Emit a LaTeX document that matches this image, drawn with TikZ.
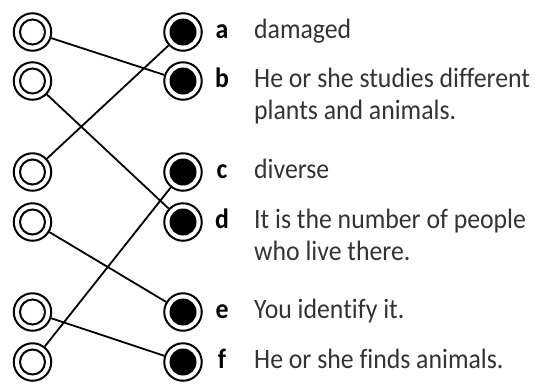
\documentclass[tikz,border=0pt]{standalone}
\usepackage{fontspec}
\setmainfont{Carlito}[FakeStretch=0.92,Ligatures=NoCommon]
\definecolor{txt}{HTML}{333333}
\begin{document}
\begin{tikzpicture}[x=1bp,y=-1bp,
  lring/.style={circle, draw, line width=2bp, minimum size=37.5bp, inner sep=0pt,
    path picture={\draw[line width=2bp] (path picture bounding box.center) circle[radius=12.5bp];}},
  rring/.style={circle, draw, line width=2bp, minimum size=37.5bp, inner sep=0pt,
    path picture={\fill (path picture bounding box.center) circle[radius=13.5bp];}},
  conn/.style={line width=1.8bp},
  letter/.style={anchor=base, inner sep=0pt, font=\fontsize{28bp}{32bp}\selectfont\bfseries, text=black},
  answer/.style={anchor=base west, inner sep=0pt, align=left, font=\fontsize{28bp}{32bp}\selectfont, text=txt}]
\useasboundingbox (0,0) rectangle (535,384);
% left circles
\node[lring] (L1) at (32.5,32) {};
\node[lring] (L2) at (32.5,81) {};
\node[lring] (L3) at (32.5,172) {};
\node[lring] (L4) at (32.5,222) {};
\node[lring] (L5) at (32.5,312) {};
\node[lring] (L6) at (32.5,362) {};
% right circles
\node[rring] (Ra) at (183,32) {};
\node[rring] (Rb) at (183,81) {};
\node[rring] (Rc) at (183,172) {};
\node[rring] (Rd) at (183,222) {};
\node[rring] (Re) at (183,312) {};
\node[rring] (Rf) at (183,362) {};
% connectors
\draw[conn] (L1) -- (Rb);
\draw[conn] (L2) -- (Rd);
\draw[conn] (L3) -- (Ra);
\draw[conn] (L4) -- (Re);
\draw[conn] (L5) -- (Rf);
\draw[conn] (L6) -- (Rc);
% letters
\node[letter] (la) at (222,38) {a};
\node[letter] (lb) at (222,87) {b};
\node[letter] (lc) at (222,178) {c};
\node[letter] (ld) at (222,228) {d};
\node[letter] (le) at (222,318) {e};
\node[letter] (lf) at (222,368) {f};
% texts (base anchor of a two-line node is the last line's baseline)
\node[answer] (ta) at (254,38) {damaged};
\node[answer] (tb) at (254,119) {He or she studies different\\plants and animals.};
\node[answer] (tc) at (254,178) {diverse};
\node[answer] (td) at (254,260) {It is the number of people\\who live there.};
\node[answer] (te) at (254,318) {You identify it.};
\node[answer] (tf) at (254,368) {He or she finds animals.};
\end{tikzpicture}
\end{document}
